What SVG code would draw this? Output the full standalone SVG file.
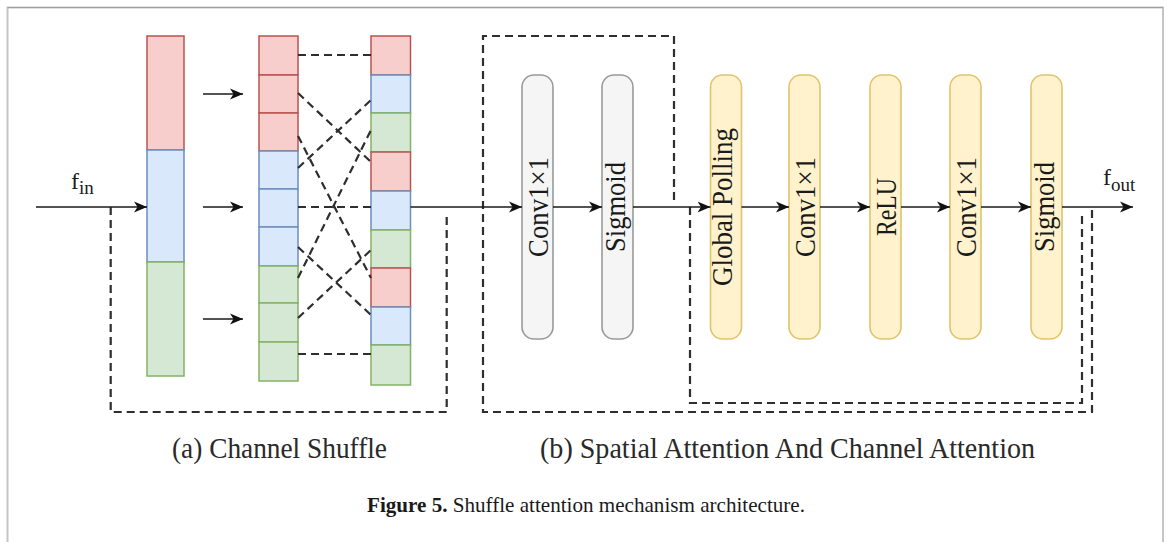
<svg xmlns="http://www.w3.org/2000/svg" width="1172" height="542" viewBox="0 0 1172 542">
<defs>
<marker id="arr" markerUnits="userSpaceOnUse" markerWidth="14" markerHeight="12" refX="13" refY="6" orient="auto"><path d="M0,0.5 L13,6 L0,11.5 L3.5,6 Z" fill="#111"/></marker>
</defs>
<style>
.ln{stroke:#1a1a1a;stroke-width:1.7;fill:none}
.ar{marker-end:url(#arr)}
.dl{stroke:#2e2e2e;stroke-width:2.2;fill:none;stroke-dasharray:8 5}
.r{fill:#f8cecc;stroke:#b85450;stroke-width:1.5}
.b{fill:#dae8fc;stroke:#6c8ebf;stroke-width:1.5}
.g{fill:#d5e8d4;stroke:#82b366;stroke-width:1.5}
.gp{fill:#f5f5f5;stroke:#9a9a9a;stroke-width:1.6}
.yp{fill:#fff2cc;stroke:#e0c46c;stroke-width:1.6}
.t{font-family:"Liberation Serif","Times New Roman",serif;fill:#1a1a1a}
.pt{font-size:29px;text-anchor:middle}
.lb{font-size:29px;text-anchor:middle;fill:#2a2a2a}
</style>
<rect width="1172" height="542" fill="#fff"/>
<g id="frame">
<path d="M7.5,542 V7.5 H1163 V542" fill="none" stroke="#c4c4c4" stroke-width="2"/>
<path d="M7.5,7.5 H1163" fill="none" stroke="#a0a0a0" stroke-width="1.2"/>
</g>
<g id="input-column">
<rect class="r" x="147" y="36" width="37" height="114"/>
<rect class="b" x="147" y="150" width="37" height="112"/>
<rect class="g" x="147" y="262" width="37" height="114"/>
</g>
<g id="grouped-column">
<rect class="r" x="259" y="36" width="39" height="39"/>
<rect class="r" x="259" y="75" width="39" height="38"/>
<rect class="r" x="259" y="113" width="39" height="38"/>
<rect class="b" x="259" y="151" width="39" height="38"/>
<rect class="b" x="259" y="189" width="39" height="38"/>
<rect class="b" x="259" y="227" width="39" height="39"/>
<rect class="g" x="259" y="266" width="39" height="37"/>
<rect class="g" x="259" y="303" width="39" height="39"/>
<rect class="g" x="259" y="342" width="39" height="39"/>
</g>
<g id="shuffled-column">
<rect class="r" x="371" y="36" width="39.5" height="39"/>
<rect class="b" x="371" y="75" width="39.5" height="38"/>
<rect class="g" x="371" y="113" width="39.5" height="39"/>
<rect class="r" x="371" y="152" width="39.5" height="39"/>
<rect class="b" x="371" y="191" width="39.5" height="39"/>
<rect class="g" x="371" y="230" width="39.5" height="38"/>
<rect class="r" x="371" y="268" width="39.5" height="39"/>
<rect class="b" x="371" y="307" width="39.5" height="38"/>
<rect class="g" x="371" y="345" width="39.5" height="40"/>
</g>
<g id="sa-conv">
<rect class="gp" x="522" y="75" width="31" height="264" rx="12"/>
<text class="t pt" transform="translate(537.5,207) rotate(-90)" y="10" textLength="100" lengthAdjust="spacingAndGlyphs">Conv1×1</text>
</g>
<g id="sa-sigmoid">
<rect class="gp" x="602" y="75" width="31" height="264" rx="12"/>
<text class="t pt" transform="translate(617.5,207) rotate(-90)" y="7" textLength="90" lengthAdjust="spacingAndGlyphs">Sigmoid</text>
</g>
<g id="ca-pool">
<rect class="yp" x="710.5" y="75" width="31" height="264" rx="12"/>
<text class="t pt" transform="translate(726,207) rotate(-90)" y="6" textLength="158" lengthAdjust="spacingAndGlyphs">Global Polling</text>
</g>
<g id="ca-conv1">
<rect class="yp" x="789" y="75" width="31" height="264" rx="12"/>
<text class="t pt" transform="translate(804.5,207) rotate(-90)" y="10" textLength="100" lengthAdjust="spacingAndGlyphs">Conv1×1</text>
</g>
<g id="ca-relu">
<rect class="yp" x="870" y="75" width="31" height="264" rx="12"/>
<text class="t pt" transform="translate(885.5,207) rotate(-90)" y="10" textLength="58" lengthAdjust="spacingAndGlyphs">ReLU</text>
</g>
<g id="ca-conv2">
<rect class="yp" x="950" y="75" width="31" height="264" rx="12"/>
<text class="t pt" transform="translate(965.5,207) rotate(-90)" y="10" textLength="100" lengthAdjust="spacingAndGlyphs">Conv1×1</text>
</g>
<g id="ca-sigmoid">
<rect class="yp" x="1031" y="75" width="31" height="264" rx="12"/>
<text class="t pt" transform="translate(1046.5,207) rotate(-90)" y="7" textLength="90" lengthAdjust="spacingAndGlyphs">Sigmoid</text>
</g>
<g id="connectors">
<path class="dl" d="M110.7,207 V412 H446.7 V213"/>
<path class="dl" d="M674,200 V36 H483 V412 H1092 V207"/>
<path class="dl" d="M690,207 V403 H1082 V213"/>
<path class="dl" d="M298,55 L371,55"/>
<path class="dl" d="M298,93 L371,162"/>
<path class="dl" d="M298,136 L371,278"/>
<path class="dl" d="M298,168 L371,100"/>
<path class="dl" d="M298,207 L371,207"/>
<path class="dl" d="M298,247 L371,315"/>
<path class="dl" d="M298,278 L371,130"/>
<path class="dl" d="M298,318 L371,250"/>
<path class="dl" d="M298,354 L371,354"/>
<path class="ln ar" d="M36,207 H147"/>
<path class="ln ar" d="M203,94 H243"/>
<path class="ln ar" d="M203,207 H243"/>
<path class="ln ar" d="M203,319 H243"/>
<path class="ln ar" d="M410.5,207 H522"/>
<path class="ln ar" d="M553,207 H602"/>
<path class="ln ar" d="M633,207 H710.5"/>
<path class="ln ar" d="M741.5,207 H789"/>
<path class="ln ar" d="M820,207 H870"/>
<path class="ln ar" d="M901,207 H950"/>
<path class="ln ar" d="M981,207 H1031"/>
<path class="ln ar" d="M1062,207 H1133"/>
</g>
<g id="labels">
<text class="t" x="71" y="189" font-size="24">f<tspan font-size="19" dy="5">in</tspan></text>
<text class="t" x="1103" y="185" font-size="24">f<tspan font-size="19" dy="6">out</tspan></text>
<text class="t lb" x="279.5" y="458" textLength="215" lengthAdjust="spacingAndGlyphs">(a) Channel Shuffle</text>
<text class="t lb" x="787.5" y="458" textLength="495" lengthAdjust="spacingAndGlyphs">(b) Spatial Attention And Channel Attention</text>
<text class="t" x="367" y="512" font-size="22" textLength="438" lengthAdjust="spacingAndGlyphs"><tspan font-weight="bold">Figure 5.</tspan> Shuffle attention mechanism architecture.</text>
</g>
</svg>
